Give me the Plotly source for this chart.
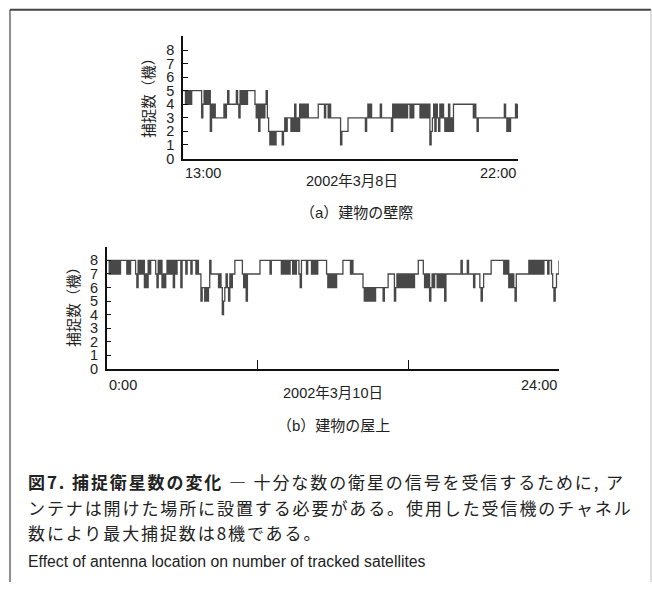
import plotly.graph_objects as go

W, H = 652, 590

# ---------------- data ----------------
# (a) building wall side, 2002-03-08, 13:00-22:00, one sample every 2 minutes
start_a, end_a = 13.0, 22.0
counts_a = (
    "55" "454545" "5555555" "345454524" "343" "333333" "434" "5" "44444"
    "45435454545" "55555" "434243434" "5" "32" "121212" "2222" "1" "2323"
    "3323" "242324" "343434" "33333333" "44444" "34434" "3" "3333333" "1"
    "22222" "33333333333333" "2" "3" "434" "3333333" "4" "33333333" "2"
    "434343434343" "443" "434" "4444" "34343434" "1" "23" "4243243" "43"
    "2324232" "4444444444444444" "343" "2" "333333333333333333333" "4" "3"
    "2323" "333434"
)
# (b) roof top, 2002-03-10, 0:00-24:00, one sample every 4 minutes
start_b, end_b = 0.0, 24.0
counts_b = (
    "88" "787878787" "88888" "7878" "8887" "6" "87878" "676" "878888" "76"
    "878" "6767" "87878" "6" "87888" "6" "8887888788" "8787" "756656" "5"
    "6" "8" "777777" "67645" "6765767" "7" "888888" "7" "675" "7777777777"
    "88888888" "7" "88888888" "7878787" "88787887" "6" "8888788878" "787"
    "88888887" "67676767" "7777" "888888" "787" "7777777" "656565" "65656"
    "666665" "666" "77777" "5" "6767" "67676767676" "777" "8888" "76767" "5"
    "67677676767" "5" "77777777777" "787" "777" "87" "77767777" "6567"
    "77777" "8888888888" "7878" "676765" "7777777777" "878787878787"
    "888788" "7656778"
)
y_ticks = [0, 1, 2, 3, 4, 5, 6, 7, 8]
x_labels_a = ["13:00", "22:00"]
x_labels_b = ["0:00", "24:00"]
x_ticks_b = [8, 16]
date_a = "2002年3月8日"
date_b = "2002年3月10日"
y_title = "捕捉数（機）"
sub_a = "（a）建物の壁際"
sub_b = "（b）建物の屋上"
caption_1 = "<b>図7. 捕捉衛星数の変化</b> ― 十分な数の衛星の信号を受信するために, ア"
caption_2 = "ンテナは開けた場所に設置する必要がある。使用した受信機のチャネル"
caption_3 = "数により最大捕捉数は8機である。"
caption_en = "Effect of antenna location on number of tracked satellites"


def series(start, end, digits):
    vals = [int(c) for c in digits]
    n = len(vals)
    ts = [start + (end - start) * i / (n - 1) for i in range(n)]
    return ts, vals


ta, va = series(start_a, end_a, counts_a)
tb, vb = series(start_b, end_b, counts_b)


def px(x):
    return x / W


def py(y):
    return 1 - y / H


LAT = "Liberation Sans, Arial, Noto Sans CJK JP, sans-serif"
CJK = "Noto Sans CJK JP, sans-serif"
LINE_COL = "#484848"

fig = go.Figure()
fig.add_trace(go.Scatter(x=ta, y=va, mode="lines", line=dict(shape="hv", color=LINE_COL, width=1.3),
                         xaxis="x", yaxis="y", showlegend=False, hoverinfo="skip"))
fig.add_trace(go.Scatter(x=tb, y=vb, mode="lines", line=dict(shape="hv", color=LINE_COL, width=1.3),
                         xaxis="x2", yaxis="y2", showlegend=False, hoverinfo="skip"))

ax_common = dict(showgrid=False, zeroline=False, showline=True, linecolor="#111", linewidth=1.5)

a_l, a_r, a_b, a_t = 183, 518, 160.7, 36
b_l, b_r, b_b, b_t = 106.7, 559, 374, 250
unit = 13.75

fig.update_layout(
    width=W, height=H, margin=dict(l=0, r=0, t=0, b=0),
    paper_bgcolor="white", plot_bgcolor="white",
    font=dict(family=LAT, size=14, color="#222"),
    xaxis=dict(domain=[px(a_l), px(a_r)], range=[start_a, end_a], showticklabels=False, ticks="",
               anchor="y", **ax_common),
    yaxis=dict(domain=[py(a_b), py(a_t)], range=[0, (a_b - a_t) / unit], tickvals=y_ticks,
               ticks="inside", ticklen=5, tickwidth=1, tickcolor="#111", anchor="x",
               ticklabelstandoff=4,
               tickfont=dict(size=14.5, family=LAT, color="#222"), **ax_common),
    xaxis2=dict(domain=[px(b_l), px(b_r)], range=[start_b, end_b], tickvals=x_ticks_b,
                showticklabels=False, ticks="inside", ticklen=9, tickwidth=1, tickcolor="#111",
                anchor="y2", **ax_common),
    yaxis2=dict(domain=[py(b_b), py(b_t)], range=[0, (b_b - b_t) / unit], tickvals=y_ticks,
                ticks="inside", ticklen=5, tickwidth=1, tickcolor="#111", anchor="x2",
                ticklabelstandoff=4,
                tickfont=dict(size=14.5, family=LAT, color="#222"), **ax_common),
)

ann = []
ann.append(dict(x=start_a, y=py(175.7), xref="x", yref="paper", text=x_labels_a[0], xanchor="left",
                yanchor="middle", showarrow=False, font=dict(size=14.5, family=LAT)))
ann.append(dict(x=end_a, y=py(175.7), xref="x", yref="paper", text=x_labels_a[1], xanchor="right",
                yanchor="middle", showarrow=False, font=dict(size=14.5, family=LAT)))
ann.append(dict(x=start_b, y=py(390), xref="x2", yref="paper", text=x_labels_b[0], xanchor="left",
                yanchor="middle", showarrow=False, font=dict(size=14.5, family=LAT)))
ann.append(dict(x=end_b, y=py(390), xref="x2", yref="paper", text=x_labels_b[1], xanchor="right",
                yanchor="middle", showarrow=False, font=dict(size=14.5, family=LAT)))
ann.append(dict(x=px(352), y=py(183.5), xref="paper", yref="paper", text=date_a, showarrow=False,
                xanchor="center", yanchor="middle", font=dict(size=14.5, family=LAT)))
ann.append(dict(x=px(333), y=py(398), xref="paper", yref="paper", text=date_b, showarrow=False,
                xanchor="center", yanchor="middle", font=dict(size=14.5, family=LAT)))
ann.append(dict(x=px(148), y=py(96), xref="paper", yref="paper", text=y_title, textangle=-90,
                showarrow=False, xanchor="center", yanchor="middle", font=dict(size=14.5, family=CJK)))
ann.append(dict(x=px(73), y=py(308), xref="paper", yref="paper", text=y_title, textangle=-90,
                showarrow=False, xanchor="center", yanchor="middle", font=dict(size=14.5, family=CJK)))
ann.append(dict(x=px(356), y=py(215), xref="paper", yref="paper", text=sub_a, showarrow=False,
                xanchor="center", yanchor="middle", font=dict(size=15, family=LAT)))
ann.append(dict(x=px(333), y=py(431), xref="paper", yref="paper", text=sub_b, showarrow=False,
                xanchor="center", yanchor="middle", font=dict(size=15, family=LAT)))
for txt, yy in [(caption_1, 488), (caption_2, 514), (caption_3, 540)]:
    ann.append(dict(x=px(26), y=py(yy), xref="paper", yref="paper",
                    text='<span style="letter-spacing:1.9px">' + txt + '</span>',
                    showarrow=False, xanchor="left", yanchor="middle",
                    font=dict(size=17, family=CJK, color="#222")))
ann.append(dict(x=px(26), y=py(569), xref="paper", yref="paper", text=caption_en, showarrow=False,
                xanchor="left", yanchor="middle", font=dict(size=15.8, family=LAT, color="#222")))
fig.update_layout(annotations=ann)

fig.update_layout(shapes=[
    dict(type="line", xref="paper", yref="paper", x0=px(10), x1=px(651), y0=py(10), y1=py(10),
         line=dict(color="#444", width=2)),
    dict(type="line", xref="paper", yref="paper", x0=px(10), x1=px(10), y0=py(10), y1=0,
         line=dict(color="#444", width=1.2)),
    dict(type="line", xref="paper", yref="paper", x0=px(651), x1=px(651), y0=py(10), y1=0,
         line=dict(color="#bbb", width=1)),
])

fig.write_html("out.html", config={"displayModeBar": False},
               post_script="document.body.style.margin='0px';")
